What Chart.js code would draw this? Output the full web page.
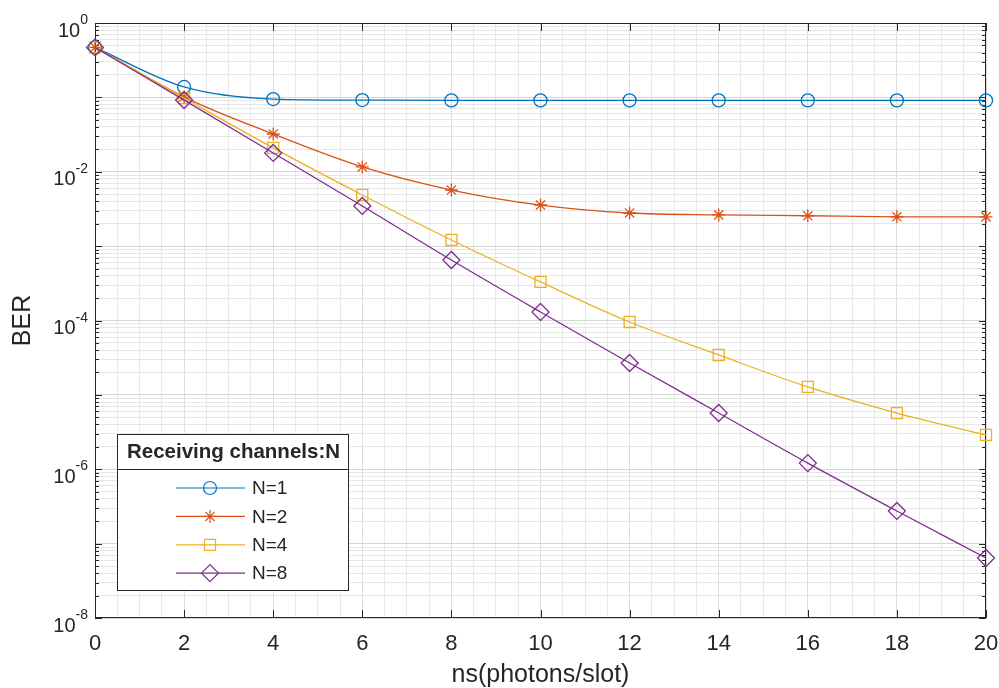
<!DOCTYPE html>
<html>
<head>
<meta charset="utf-8">
<script src="https://cdn.jsdelivr.net/npm/chart.js@4.4.1/dist/chart.umd.min.js"></script>
<style>
  html, body { margin: 0; padding: 0; background: #ffffff; }
  #wrap { width: 999px; height: 688px; }
</style>
</head>
<body>
<div id="wrap"><canvas id="c" width="999" height="688"></canvas></div>
<script>
// ---- data ----
const nsValues = [0, 2, 4, 6, 8, 10, 12, 14, 16, 18, 20];
const berN1 = [0.47, 0.138, 0.095, 0.092, 0.091, 0.091, 0.091, 0.091, 0.091, 0.091, 0.091];
const berN2 = [0.47, 0.101, 0.0322, 0.0116, 0.00568, 0.00357, 0.00279, 0.00263, 0.00256, 0.00248, 0.00247];
const berN4 = [0.47, 0.098, 0.0209, 0.00487, 0.00121, 0.00033, 9.55e-5, 3.44e-5, 1.28e-5, 5.7e-6, 2.89e-6];
const berN8 = [0.47, 0.092, 0.0179, 0.00347, 0.00065, 0.00013, 2.68e-5, 5.7e-6, 1.21e-6, 2.75e-7, 6.4e-8];
const seriesLabels = ['N=1', 'N=2', 'N=4', 'N=8'];
const legendTitle = 'Receiving channels:N';
const xTitle = 'ns(photons/slot)';
const yTitle = 'BER';
const yLabelExponents = [0, -2, -4, -6, -8];

const colors = ['#0072BD', '#D95319', '#EDB120', '#7E2F8E'];
const styles = ['circle', 'star', 'rect', 'rectRot'];
const radii = [6.5, 6.5, 7.8, 8.5];
const allSeries = [berN1, berN2, berN4, berN8];
const TXT = '#262626';
const FONT = '"Liberation Sans", Arial, sans-serif';

function pts(arr) { return nsValues.map((x, i) => ({ x: x, y: arr[i] })); }

const datasets = allSeries.map((arr, i) => ({
  label: seriesLabels[i],
  data: pts(arr),
  borderColor: colors[i],
  backgroundColor: colors[i],
  borderWidth: 1.3,
  pointStyle: styles[i],
  pointRadius: radii[i],
  pointBorderWidth: 1.3,
  pointBorderColor: colors[i],
  pointBackgroundColor: 'rgba(0,0,0,0)',
  cubicInterpolationMode: 'monotone',
  clip: false,
  order: 4 - i
}));

const overlay = {
  id: 'overlay',
  beforeDatasetsDraw(chart) {
    const ctx = chart.ctx, a = chart.chartArea;
    ctx.save();
    ctx.strokeStyle = TXT;
    ctx.lineWidth = 1;
    ctx.strokeRect(a.left + 0.5, a.top + 0.5, a.right - a.left - 1, a.bottom - a.top - 1);
    const xs = chart.scales.x, ys = chart.scales.y;
    ctx.beginPath();
    for (let v = 0; v <= 20; v += 2) {
      const px = Math.round(xs.getPixelForValue(v)) + 0.5;
      ctx.moveTo(px, a.bottom); ctx.lineTo(px, a.bottom - 8);
      ctx.moveTo(px, a.top); ctx.lineTo(px, a.top + 8);
    }
    for (let e = -8; e <= 0; e++) {
      for (let k = 1; k <= 9; k++) {
        if (e === 0 && k > 1) break;
        const v = k * Math.pow(10, e);
        const py = Math.round(ys.getPixelForValue(v)) + 0.5;
        const len = k === 1 ? 7 : 4;
        ctx.moveTo(a.left, py); ctx.lineTo(a.left + len, py);
        ctx.moveTo(a.right, py); ctx.lineTo(a.right - len, py);
      }
    }
    ctx.stroke();
    ctx.restore();
  },
  afterDraw(chart) {
    const ctx = chart.ctx, ys = chart.scales.y;
    ctx.save();
    ctx.fillStyle = TXT;
    ctx.textBaseline = 'alphabetic';
    ctx.textAlign = 'left';
    yLabelExponents.forEach(e => {
      const py = ys.getPixelForValue(Math.pow(10, e));
      const base = '10', sup = String(e);
      ctx.font = '20px ' + FONT;
      const wb = ctx.measureText(base).width;
      ctx.font = '14px ' + FONT;
      const ws = ctx.measureText(sup).width;
      const right = 88;
      const x0 = right - ws - wb;
      ctx.font = '20px ' + FONT;
      ctx.fillText(base, x0, py + 13.5);
      ctx.font = '14px ' + FONT;
      ctx.fillText(sup, x0 + wb, py + 1);
    });
    // legend box
    const L = 117, T = 434, R = 348, B = 590;
    ctx.fillStyle = '#ffffff';
    ctx.fillRect(L, T, R - L, B - T);
    ctx.strokeStyle = TXT;
    ctx.lineWidth = 1;
    ctx.strokeRect(L + 0.5, T + 0.5, R - L, B - T);
    ctx.beginPath();
    ctx.moveTo(L, 469.5); ctx.lineTo(R, 469.5);
    ctx.stroke();
    ctx.fillStyle = TXT;
    ctx.font = 'bold 20.5px ' + FONT;
    ctx.textAlign = 'center';
    ctx.textBaseline = 'middle';
    ctx.fillText(legendTitle, (L + R) / 2 + 1, 452);
    chart.data.datasets.forEach((ds, i) => {
      const y = 488 + i * 28.4;
      ctx.strokeStyle = ds.borderColor;
      ctx.lineWidth = 1.2;
      ctx.beginPath();
      ctx.moveTo(176, y); ctx.lineTo(245, y);
      ctx.stroke();
      ctx.fillStyle = 'rgba(0,0,0,0)';
      ctx.strokeStyle = ds.borderColor;
      Chart.helpers.drawPoint(ctx, {
        pointStyle: ds.pointStyle, radius: ds.pointRadius, rotation: 0, borderWidth: 1.2
      }, 210, y);
      ctx.fillStyle = TXT;
      ctx.font = '19px ' + FONT;
      ctx.textAlign = 'left';
      ctx.textBaseline = 'middle';
      ctx.fillText(ds.label, 252, y + 1);
    });
    ctx.restore();
  }
};

new Chart(document.getElementById('c'), {
  type: 'line',
  data: { datasets: datasets },
  options: {
    responsive: false,
    animation: false,
    layout: { padding: { top: 23, right: 13, left: 0, bottom: 0 } },
    plugins: { legend: { display: false }, tooltip: { enabled: false } },
    scales: {
      x: {
        type: 'linear',
        min: 0, max: 20,
        border: { display: false },
        grid: {
          drawTicks: false,
          color: ctx => (ctx.tick && ctx.tick.value % 2 === 0) ? '#dcdcdc' : '#e8e8e8',
          lineWidth: 1
        },
        ticks: {
          stepSize: 0.5,
          autoSkip: false,
          maxRotation: 0,
          padding: 13,
          color: TXT,
          font: { family: FONT, size: 22 },
          callback: v => (v % 2 === 0 ? String(v) : '')
        },
        title: {
          display: true,
          text: xTitle,
          color: TXT,
          padding: { top: 0, bottom: 0 },
          font: { family: FONT, size: 25, lineHeight: 1 }
        },
        afterFit: s => { s.height = 70; s.paddingLeft = 0; s.paddingRight = 0; }
      },
      y: {
        type: 'logarithmic',
        min: 1e-8, max: 1,
        border: { display: false },
        grid: {
          drawTicks: false,
          color: ctx => {
            if (!ctx.tick) return '#e6e6e6';
            const l = Math.log10(ctx.tick.value);
            return Math.abs(l - Math.round(l)) < 1e-9 ? '#d6d6d6' : '#e6e6e6';
          },
          lineWidth: 1
        },
        ticks: { display: true, autoSkip: false, callback: () => '' },
        afterBuildTicks: s => {
          const t = [];
          for (let e = -8; e <= 0; e++) {
            for (let k = 1; k <= 9; k++) {
              if (e === 0 && k > 1) break;
              t.push({ value: k * Math.pow(10, e) });
            }
          }
          s.ticks = t;
        },
        title: {
          display: true,
          text: yTitle,
          color: TXT,
          padding: { top: 11, bottom: 0 },
          font: { family: FONT, size: 25, lineHeight: 1 }
        },
        afterFit: s => { s.width = 95; s.paddingTop = 0; s.paddingBottom = 0; }
      }
    }
  },
  plugins: [overlay]
});
</script>
</body>
</html>
